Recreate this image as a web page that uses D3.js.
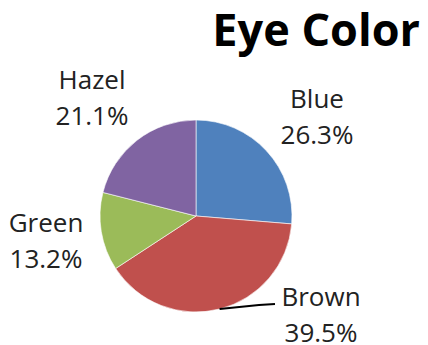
<!DOCTYPE html>
<html>
<head>
<meta charset="utf-8">
<script src="https://cdn.jsdelivr.net/npm/d3@7"></script>
<style>
  html, body { margin: 0; padding: 0; background: #fff; }
  svg { display: block; font-family: "Open Sans", "Liberation Sans", sans-serif; }
</style>
</head>
<body>
<svg id="chart" width="428" height="345"></svg>
<script>
// Eye colour survey counts
const categories = ["Blue", "Brown", "Green", "Hazel"];
const counts = [10, 15, 5, 8];
const colors = ["#4F81BD", "#C0504D", "#9BBB59", "#8064A2"];

const svg = d3.select("#chart");
const cx = 196, cy = 216, radius = 96;

svg.append("text")
  .attr("x", 420).attr("y", 46)
  .attr("text-anchor", "end")
  .attr("font-size", 45)
  .attr("font-weight", 700)
  .attr("fill", "#000")
  .text("Eye Color");

const total = d3.sum(counts);
const data = categories.map((c, i) => ({ name: c, value: counts[i], color: colors[i] }));

const pie = d3.pie().sort(null).value(d => d.value);
const arc = d3.arc().innerRadius(0).outerRadius(radius);
const arcs = pie(data);

const g = svg.append("g").attr("transform", `translate(${cx},${cy})`);
g.selectAll("path.slice")
  .data(arcs)
  .join("path")
  .attr("class", "slice")
  .attr("d", arc)
  .attr("fill", d => d.data.color)
  .attr("stroke", "#fff")
  .attr("stroke-width", 0.6);

// Label placement (name line baseline, centre x)
const labelPos = {
  Blue:  { x: 317, y: 108 },
  Brown: { x: 321, y: 306 },
  Green: { x: 46,  y: 232 },
  Hazel: { x: 92,  y: 89 }
};
const fmt = d3.format(".1%");

arcs.forEach(a => {
  const p = labelPos[a.data.name];
  const t = svg.append("text")
    .attr("text-anchor", "middle")
    .attr("font-size", 26)
    .attr("fill", "#222");
  t.append("tspan").attr("x", p.x).attr("y", p.y).text(a.data.name);
  t.append("tspan").attr("x", p.x).attr("y", p.y + 36).text(fmt(a.data.value / total));
});

// Leader line from the middle of the Brown slice's rim to its label
const brown = arcs[1];
const ang = (brown.startAngle + brown.endAngle) / 2;
const sx = cx + radius * Math.sin(ang), sy = cy - radius * Math.cos(ang);
const lp = labelPos.Brown;
svg.append("path")
  .attr("d", `M${sx},${sy} L${lp.x - 62},${lp.y - 1} L${lp.x - 46},${lp.y - 2}`)
  .attr("fill", "none")
  .attr("stroke", "#000")
  .attr("stroke-width", 2);
</script>
</body>
</html>
